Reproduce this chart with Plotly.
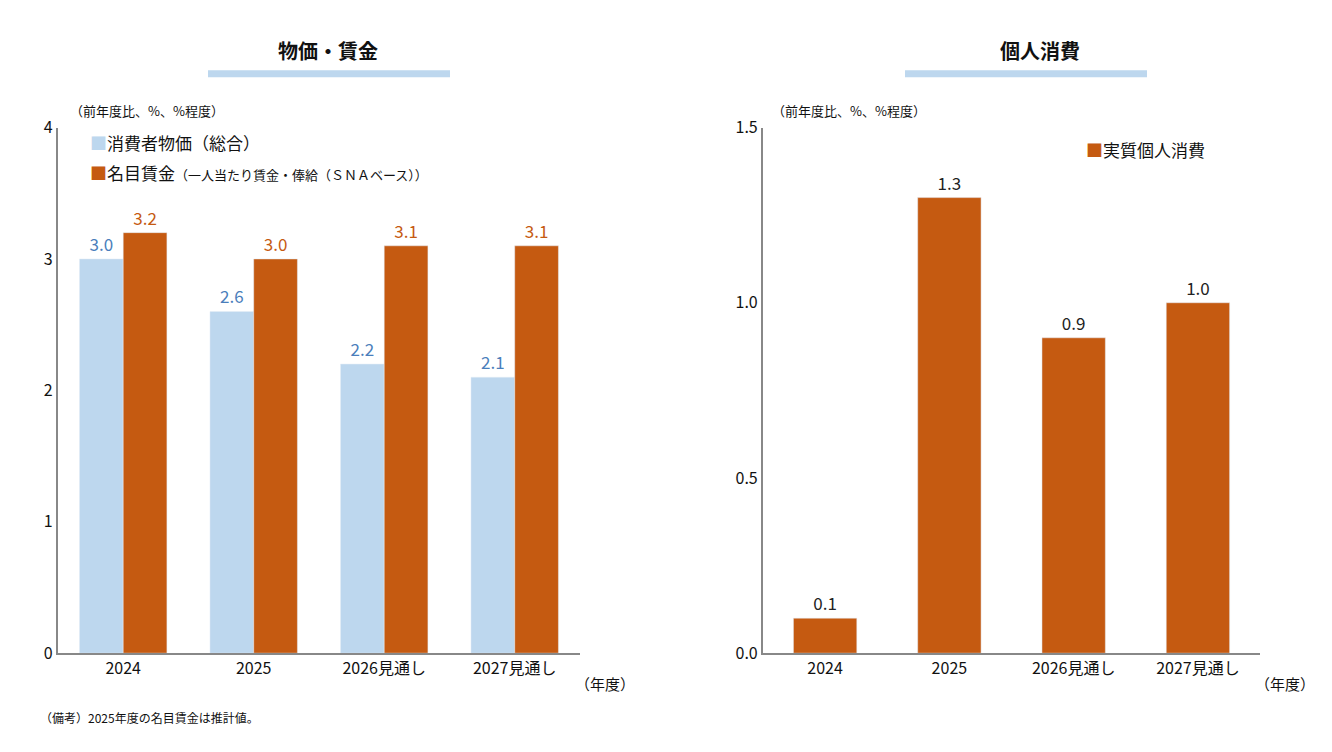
import plotly.graph_objects as go

cats = ["2024", "2025", "2026見通し", "2027見通し"]
cpi = [3.0, 2.6, 2.2, 2.1]
wage = [3.2, 3.0, 3.1, 3.1]
cons = [0.1, 1.3, 0.9, 1.0]

BLUE = "#bdd7ee"; ORANGE = "#c55a11"; BLUE_T = "#4a7ebb"
F = "Noto Sans CJK JP"

fig = go.Figure()
fig.add_bar(x=cats, y=cpi, marker_color=BLUE, text=[f"{v:.1f}" for v in cpi], textposition="outside",
            textfont=dict(color=BLUE_T, size=17), xaxis="x", yaxis="y", cliponaxis=False)
fig.add_bar(x=cats, y=wage, marker_color=ORANGE, text=[f"{v:.1f}" for v in wage], textposition="outside",
            textfont=dict(color=ORANGE, size=17), xaxis="x", yaxis="y", cliponaxis=False)
fig.add_bar(x=cats, y=cons, marker_color=ORANGE, text=[f"{v:.1f}" for v in cons], textposition="outside",
            textfont=dict(color="#222", size=17), xaxis="x2", yaxis="y2", cliponaxis=False, width=0.51)

ax = dict(showgrid=False, showline=True, linecolor="#888", linewidth=2, ticks="", tickfont=dict(size=16, color="#111"))
fig.update_layout(
    width=1332, height=752, margin=dict(l=0, r=0, t=0, b=0), paper_bgcolor="white", plot_bgcolor="white",
    font=dict(family=F, color="#111"), showlegend=False, barmode="group", bargap=0.33, bargroupgap=0,
    xaxis=dict(domain=[0.0375, 0.4294], anchor="y", **ax),
    yaxis=dict(domain=[0.1316, 0.8537], range=[0, 4], dtick=1, anchor="x", **ax),
    xaxis2=dict(domain=[0.5668, 0.94], anchor="y2", **ax),
    yaxis2=dict(domain=[0.1316, 0.8537], range=[0, 1.5], dtick=0.5, tickformat=".1f", anchor="x2", **ax),
)
fig.update_yaxes(showline=True)

ann = []
def A(x, y, t, size=13, color="#111", xanchor="left", **k):
    ann.append(dict(x=x, y=y, xref="paper", yref="paper", text=t, showarrow=False, xanchor=xanchor,
                    yanchor="middle", font=dict(size=size, color=color, family=F), **k))
A(320/1332, 1-30/752, "<b>物価・賃金</b>", 20, xanchor="center")
A(1032/1332, 1-30/752, "<b>個人消費</b>", 20, xanchor="center")
A(60/1332, 1-92/752, "（前年度比、%、%程度）", 13)
A(762/1332, 1-92/752, "（前年度比、%、%程度）", 13)
A(80/1332, 1-125/752, "<span style='color:%s'>■</span>消費者物価（総合）" % BLUE, 17)
A(80/1332, 1-156/752, "<span style='color:%s'>■</span>名目賃金<span style='font-size:13px'>（一人当たり賃金・俸給（ＳＮＡベース））</span>" % ORANGE, 17)
A(1076/1332, 1-133/752, "<span style='color:%s'>■</span>実質個人消費" % ORANGE, 17)
A(565/1332, 1-684/752, "（年度）", 15)
A(1245/1332, 1-684/752, "（年度）", 15)
A(30/1332, 1-719/752, "（備考）2025年度の名目賃金は推計値。", 12)
fig.update_layout(annotations=ann, shapes=[
    dict(type="rect", xref="paper", yref="paper", x0=200/1332, x1=442/1332, y0=1-58/752, y1=1-51/752, fillcolor=BLUE, line_width=0),
    dict(type="rect", xref="paper", yref="paper", x0=897/1332, x1=1139/1332, y0=1-58/752, y1=1-51/752, fillcolor=BLUE, line_width=0),
])
fig.write_html("out.html")
